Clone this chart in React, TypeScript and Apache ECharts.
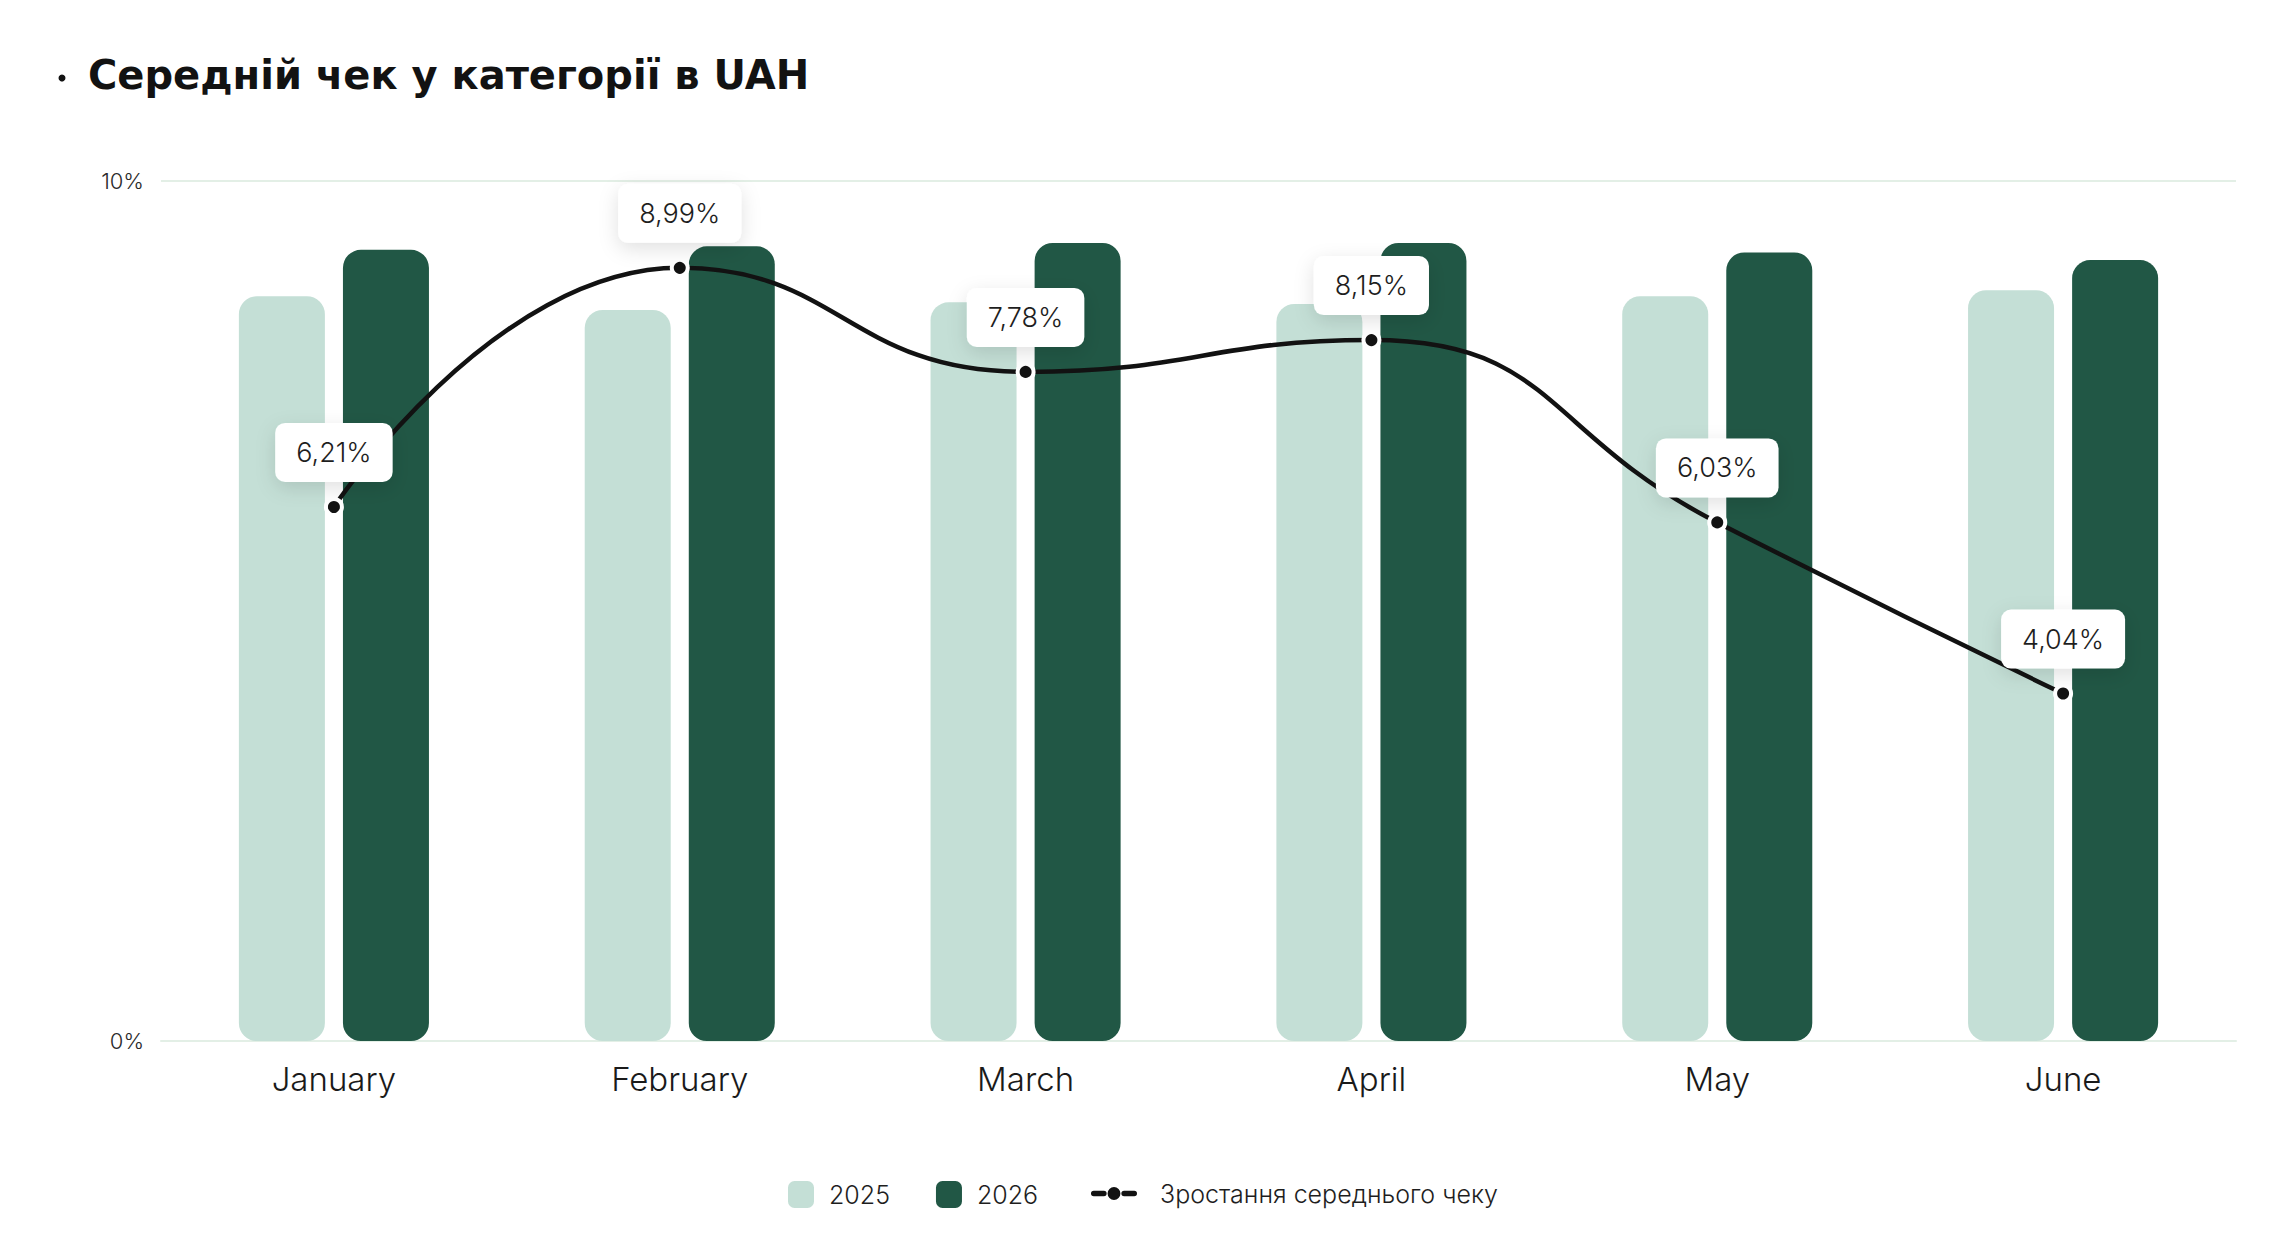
import React, { useEffect, useRef } from "react";
import * as echarts from "echarts";

const categories = ["January", "February", "March", "April", "May", "June"];
const values2025 = [8.66, 8.5, 8.59, 8.57, 8.66, 8.73];
const values2026 = [9.2, 9.24, 9.28, 9.28, 9.17, 9.08];
const growth = [6.21, 8.99, 7.78, 8.15, 6.03, 4.04];
const seriesNames = ["2025", "2026", "Зростання середнього чеку"];
const yTicks = { min: 0, max: 10, interval: 10 };

const FONT = "Inter, 'Open Sans', sans-serif";
const TITLE_FONT = "'DejaVu Sans', Inter, sans-serif";
const LINE_ICON =
  "path://M1,5 H12 A3,3 0 0 1 12,11 H1 A3,3 0 0 1 1,5 Z M23,1 A7,7 0 1 1 23,15 A7,7 0 1 1 23,1 Z M34,5 H45 A3,3 0 0 1 45,11 H34 A3,3 0 0 1 34,5 Z";

export default function App() {
  const ref = useRef<HTMLDivElement>(null);
  useEffect(() => {
    if (!ref.current) return;
    const chart = echarts.init(ref.current, undefined, { renderer: "svg" });
    chart.setOption({
      animation: false,
      backgroundColor: "#ffffff",
      textStyle: { fontFamily: FONT },
      title: {
        text: "Середній чек у категорії в UAH",
        left: 88,
        top: 53,
        padding: 0,
        textStyle: { fontFamily: TITLE_FONT, fontSize: 40, fontWeight: 700, color: "#121212", lineHeight: 44 },
      },
      graphic: [
        { type: "circle", shape: { cx: 62, cy: 78, r: 3.5 }, style: { fill: "#121212" } },
      ],
      legend: [
        {
          data: [seriesNames[0], seriesNames[1]],
          left: 788,
          top: 1181,
          padding: 0,
          itemWidth: 26,
          itemHeight: 27,
          itemGap: 46,
          icon: "roundRect",
          textStyle: { fontFamily: FONT, fontSize: 25, color: "#1e1e1e", fontWeight: 300, padding: [0, 0, 0, 10] },
        },
        {
          data: [{ name: seriesNames[2], icon: LINE_ICON }],
          left: 1091,
          top: 1181,
          padding: 0,
          itemWidth: 46,
          itemHeight: 16,
          itemStyle: { borderWidth: 0 },
          textStyle: { fontFamily: FONT, fontSize: 25, color: "#1e1e1e", fontWeight: 300, padding: [0, 0, 0, 18] },
        },
      ],
      grid: { left: 161, right: 60, top: 181, bottom: 205, containLabel: false },
      xAxis: {
        type: "category",
        data: categories,
        axisLine: { show: true, lineStyle: { color: "#e3efe6", width: 2 } },
        axisTick: { show: false },
        axisLabel: { margin: 21, fontSize: 33, fontWeight: 300, color: "#1a1a1a", fontFamily: FONT },
      },
      yAxis: [
        {
          type: "value",
          min: yTicks.min,
          max: yTicks.max,
          interval: yTicks.interval,
          axisLine: { show: false },
          axisTick: { show: false },
          axisLabel: { formatter: "{value}%", fontSize: 22, fontWeight: 300, color: "#2a2a2a", margin: 17, fontFamily: FONT },
          splitLine: { lineStyle: { color: "#e3efe6", width: 2 } },
        },
        {
          type: "value",
          min: yTicks.min,
          max: yTicks.max,
          show: false,
          splitLine: { show: false },
        },
      ],
      series: [
        {
          name: seriesNames[0],
          type: "bar",
          yAxisIndex: 1,
          data: values2025,
          barWidth: 86,
          barGap: "21%",
          itemStyle: { color: "#c4dfd6", borderRadius: 18 },
          z: 1,
        },
        {
          name: seriesNames[1],
          type: "bar",
          yAxisIndex: 1,
          data: values2026,
          barWidth: 86,
          barGap: "21%",
          itemStyle: { color: "#215745", borderRadius: 18 },
          z: 1,
        },
        {
          name: seriesNames[2],
          type: "line",
          yAxisIndex: 0,
          data: growth,
          smooth: 0.5,
          symbol: "circle",
          symbolSize: 16,
          lineStyle: { color: "#121212", width: 4.5 },
          itemStyle: { color: "#121212", borderColor: "#ffffff", borderWidth: 4 },
          z: 5,
          label: {
            show: true,
            position: "top",
            distance: 15,
            formatter: (p: any) => String(p.value.toFixed(2)).replace(".", ",") + "%",
            fontFamily: FONT,
            fontSize: 27,
            fontWeight: 300,
            color: "#1e1e1e",
            backgroundColor: "#ffffff",
            borderRadius: 10,
            padding: [16, 21, 16, 21],
            shadowColor: "rgba(0,0,0,0.12)",
            shadowBlur: 20,
            shadowOffsetY: 6,
          },
        },
      ],
    });
    return () => chart.dispose();
  }, []);
  return (
    <div
      ref={ref}
      style={{ position: "fixed", left: 0, top: 0, width: 2296, height: 1246, background: "#fff" }}
    />
  );
}
